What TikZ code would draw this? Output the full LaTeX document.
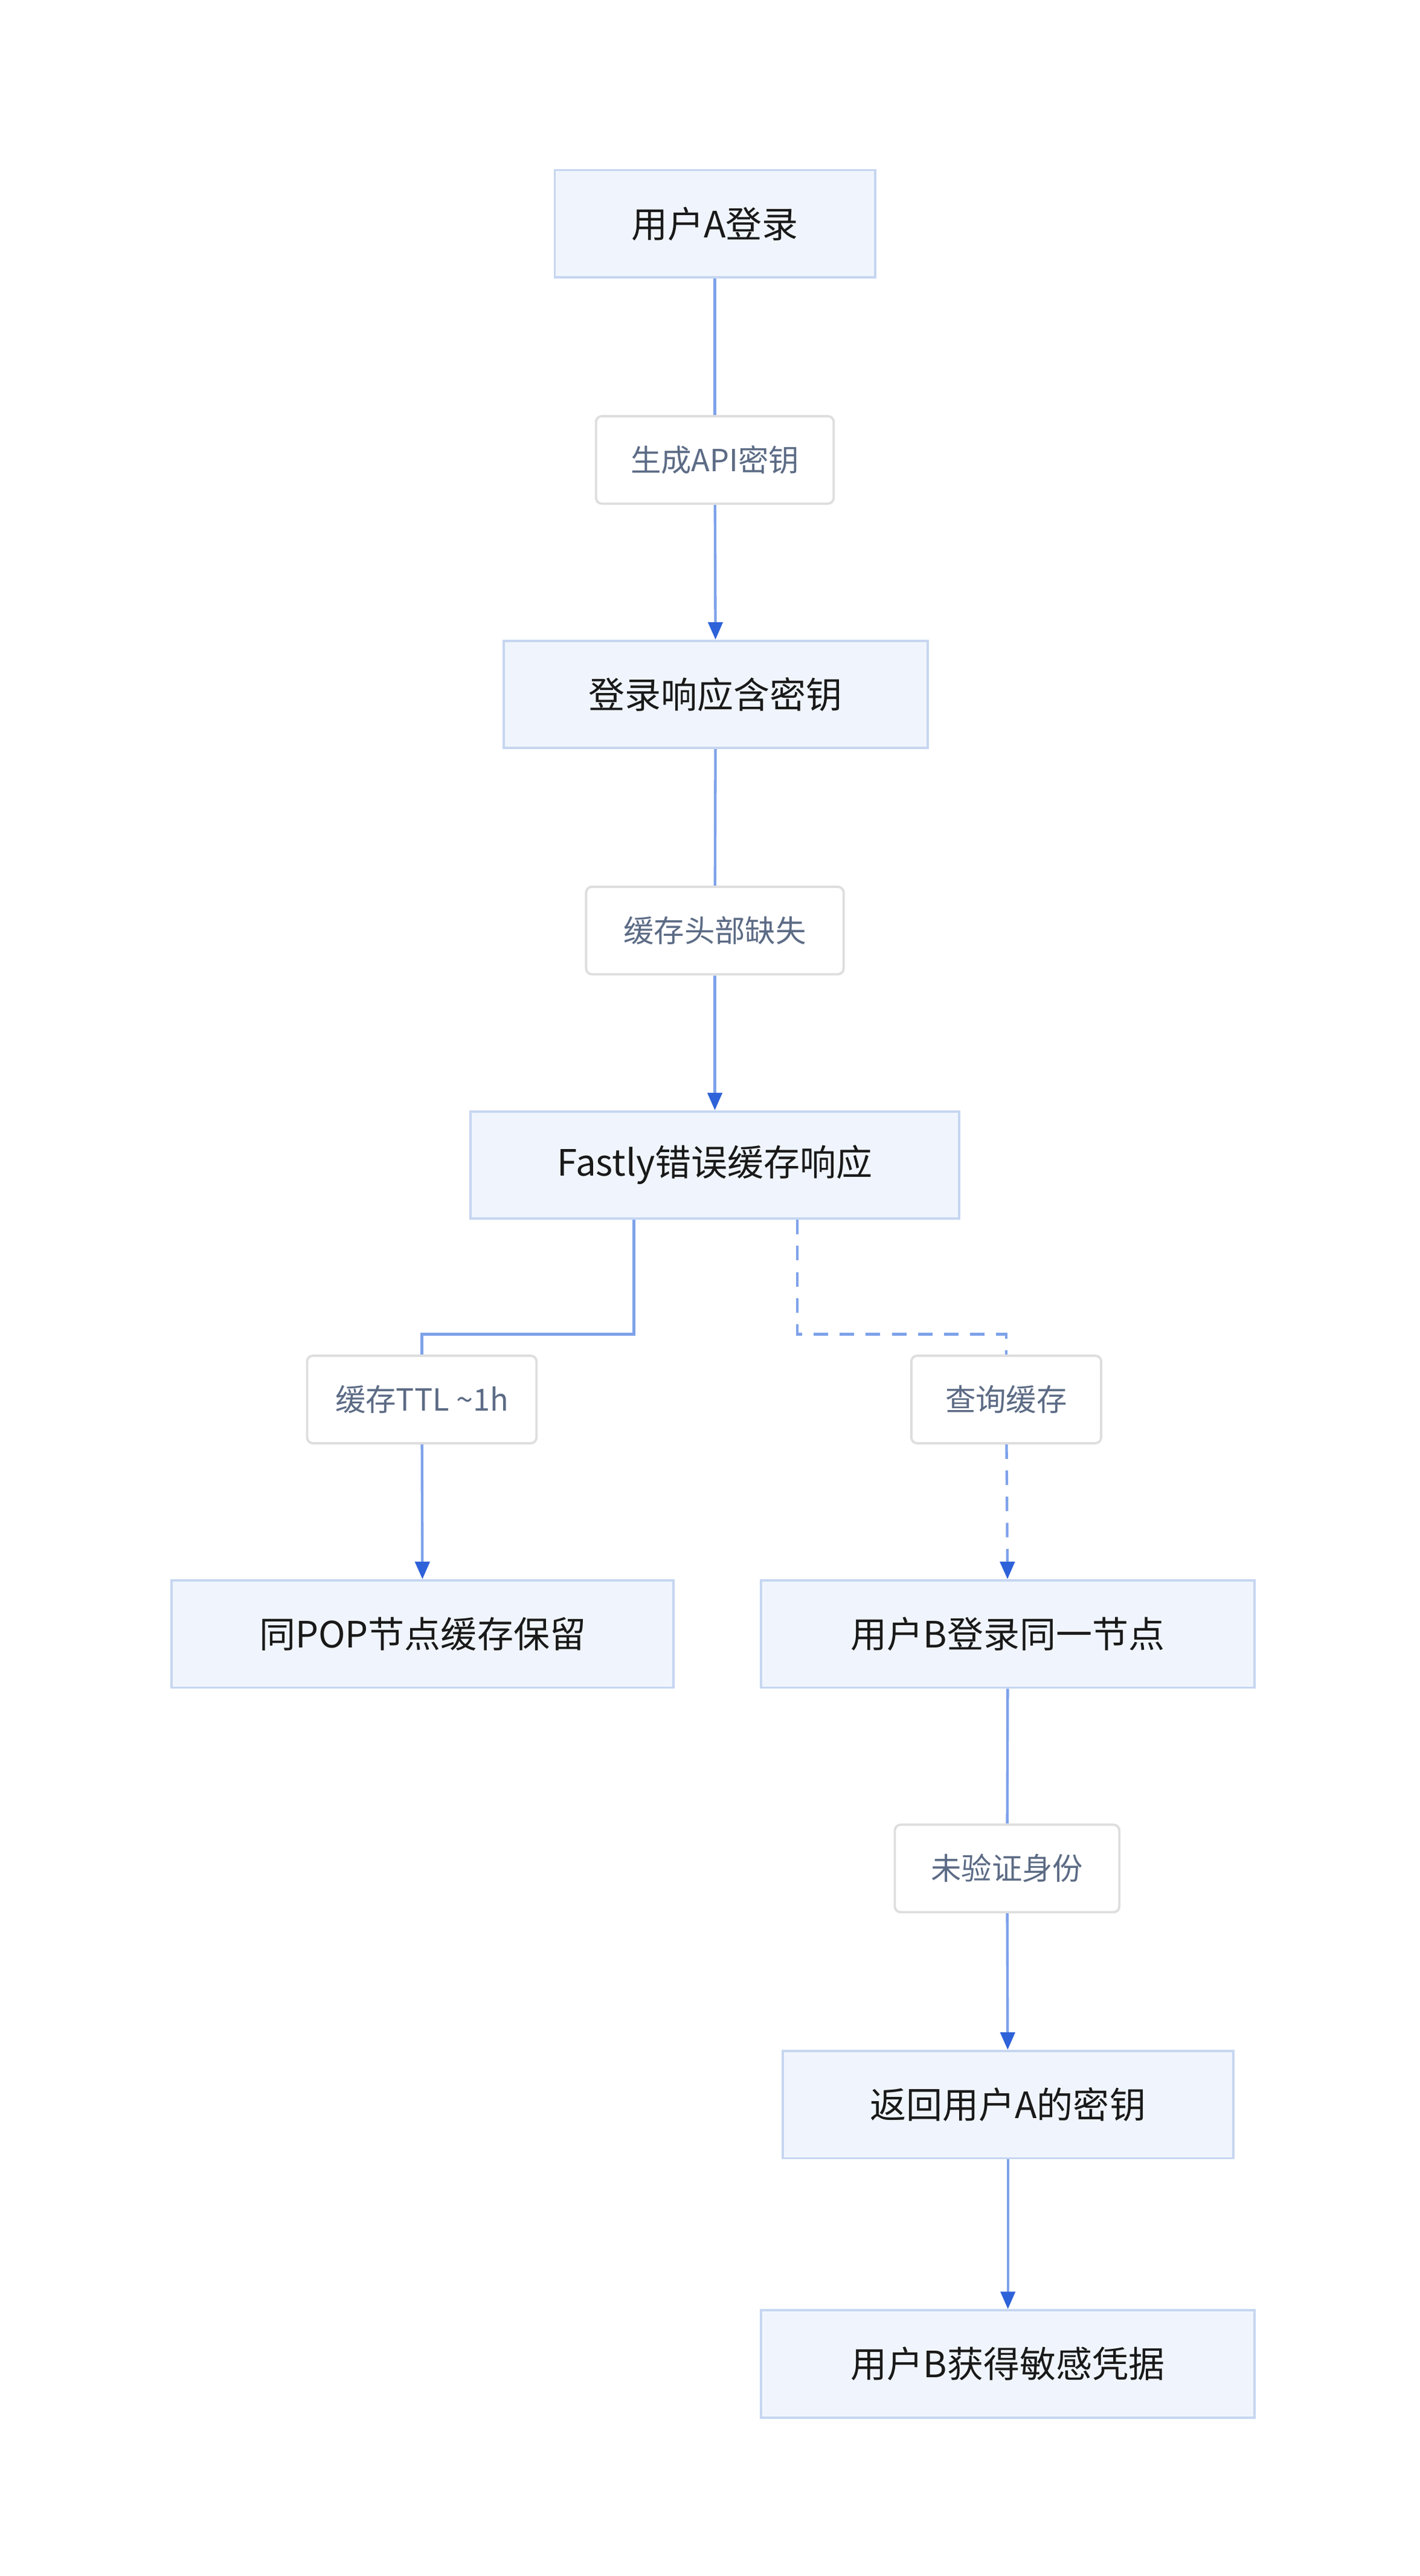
\documentclass[tikz,border=0pt]{standalone}
\usepackage{fontspec}
\setmainfont{Noto Sans CJK SC}
\usepackage{tikz}
\usetikzlibrary{calc,positioning,arrows.meta}
\definecolor{boxfill}{HTML}{F0F5FD}
\definecolor{boxline}{HTML}{C6D6F1}
\definecolor{tagline}{HTML}{DEDEDE}
\definecolor{tagtext}{HTML}{5C6B85}
\definecolor{edgeline}{HTML}{7EA2EA}
\definecolor{edgetip}{HTML}{2E62D9}
\tikzset{
  stage/.style={draw=boxline, fill=boxfill, line width=0.8pt, minimum height=1.3cm,
    inner sep=0pt, text=black!90, font=\fontsize{12.5}{15}\selectfont},
  tag/.style={draw=tagline, fill=white, rounded corners=2pt, line width=0.8pt,
    minimum height=1.06cm, inner sep=0pt, text=tagtext, font=\fontsize{10.5}{13}\selectfont},
  link/.style={draw=edgeline, line width=0.9pt},
  flow/.style={link, -{Triangle[length=6pt,width=5pt,color=edgetip]}},
}
\begin{document}
\begin{tikzpicture}[x=0.02cm, y=-0.02cm]
  \useasboundingbox (0,0) rectangle (860,1560);
  % main boxes
  \node[stage, minimum width=3.88cm] (login) at (433,135.5) {用户A登录};
  \node[stage, minimum width=5.14cm] (resp) at (433.5,420.5) {登录响应含密钥};
  \node[stage, minimum width=5.92cm] (fastly) at (433,705.5) {Fastly错误缓存响应};
  \node[stage, minimum width=6.08cm] (pop) at (256,989.5) {同POP节点缓存保留};
  \node[stage, minimum width=5.98cm] (userb) at (610.5,989.5) {用户B登录同一节点};
  \node[stage, minimum width=5.46cm] (keya) at (610.5,1274.5) {返回用户A的密钥};
  \node[stage, minimum width=5.98cm] (cred) at (610.5,1431.5) {用户B获得敏感凭据};
  % edge labels
  \node[tag, minimum width=2.88cm] (genkey) at (433,278.5) {生成API密钥};
  \node[tag, minimum width=3.12cm] (nohdr) at (433,563.5) {缓存头部缺失};
  \node[tag, minimum width=2.78cm] (ttl) at (255.5,847.5) {缓存TTL \textasciitilde1h};
  \node[tag, minimum width=2.30cm] (query) at (609.5,847.5) {查询缓存};
  \node[tag, minimum width=2.72cm] (noauth) at (610,1131.5) {未验证身份};
  \coordinate (splitL) at (384,808);
  \coordinate (splitR) at (483,808);
  % connectors
  \draw[link] (login) -- (genkey);
  \draw[flow] (genkey) -- (resp);
  \draw[link] (resp) -- (nohdr);
  \draw[flow] (nohdr) -- (fastly);
  \draw[link] (fastly.south -| splitL) -- (splitL) -| (ttl.north);
  \draw[flow] (ttl) -- (pop);
  \draw[link, dash pattern=on 5pt off 4pt] (fastly.south -| splitR) -- (splitR) -| (query.north);
  \draw[flow, dash pattern=on 5pt off 4pt] (query) -- (userb);
  \draw[link] (userb) -- (noauth);
  \draw[flow] (noauth) -- (keya);
  \draw[flow] (keya) -- (cred);
\end{tikzpicture}
\end{document}
